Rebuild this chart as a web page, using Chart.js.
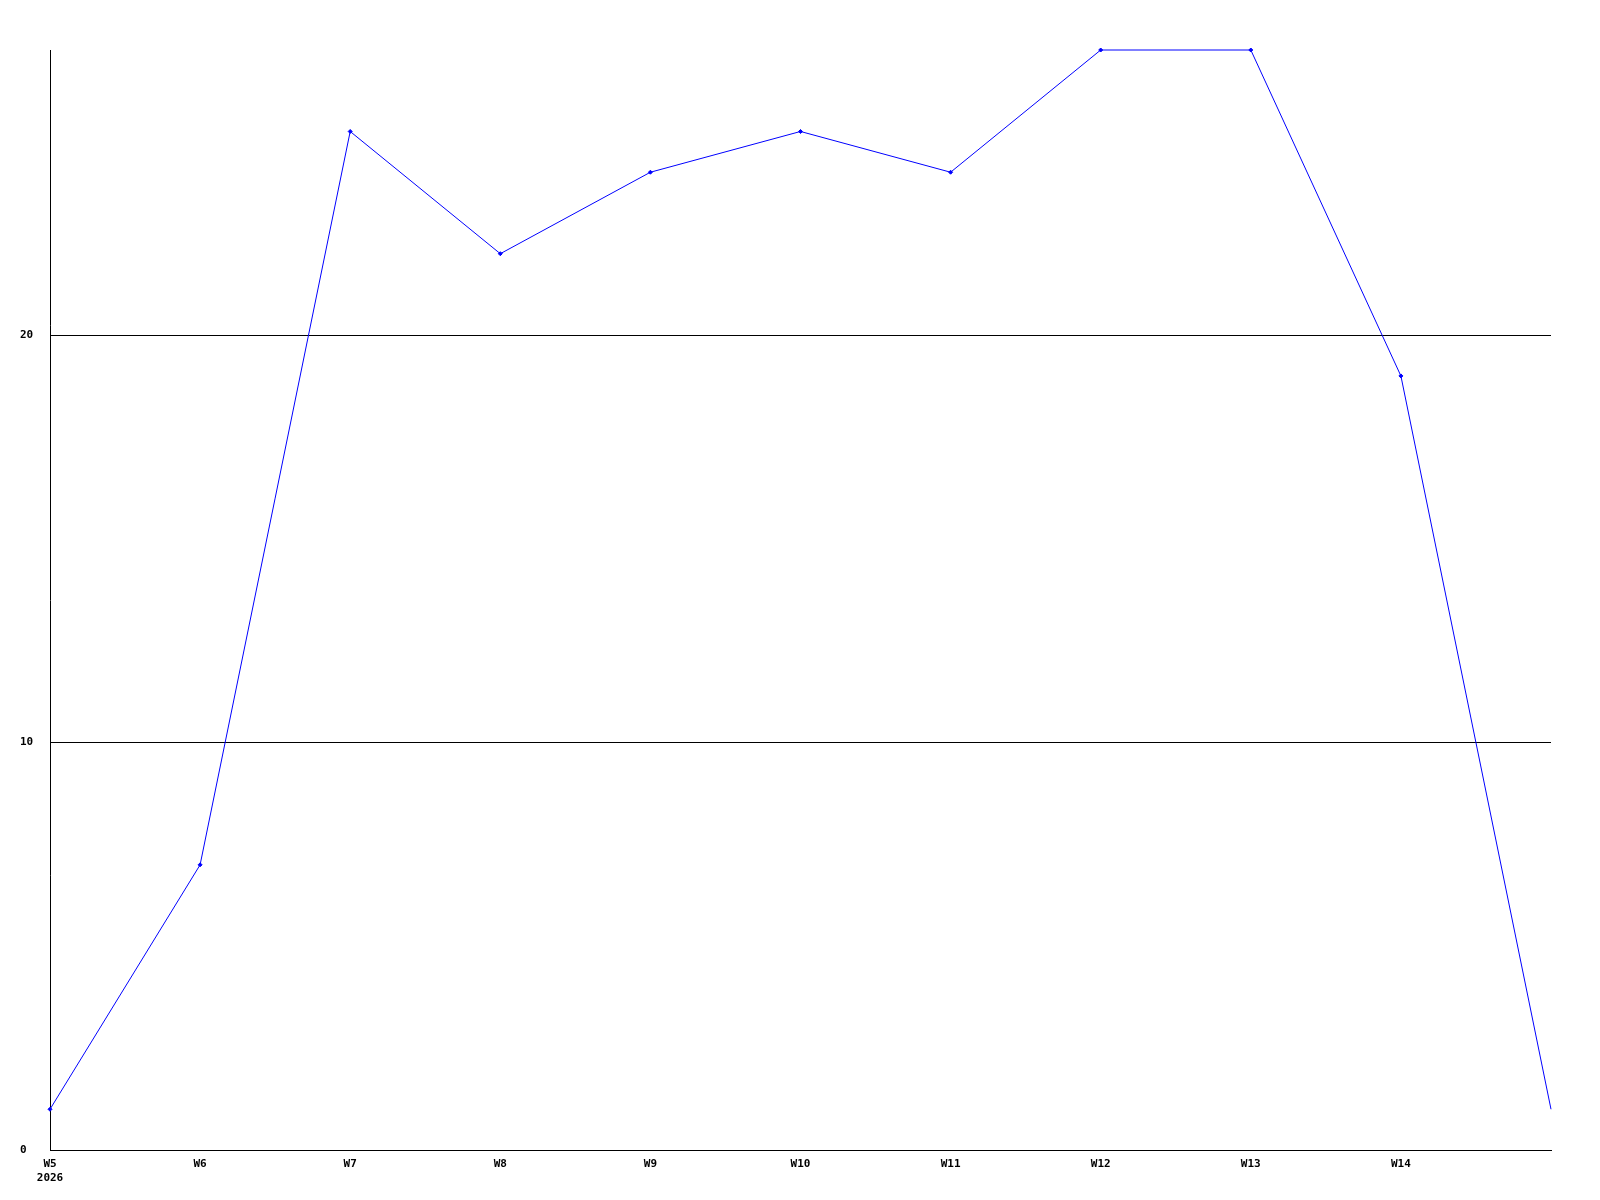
<!DOCTYPE html>
<html>
<head>
<meta charset="utf-8">
<script src="https://cdn.jsdelivr.net/npm/chart.js@4/dist/chart.umd.min.js"></script>
<style>
html,body{margin:0;padding:0;background:#fff;}
#wrap{width:1600px;height:1200px;}
</style>
</head>
<body>
<div id="wrap"><canvas id="c" width="1600" height="1200"></canvas></div>
<script>
const weekLabels = [['W5','2026'],'W6','W7','W8','W9','W10','W11','W12','W13','W14',''];
const values = [1, 7, 25, 22, 24, 25, 24, 27, 27, 19, 1];
const yTickValues = [0, 10, 20];
const yMax = 27;

const font = {family: '"DejaVu Sans Mono", monospace', size: 11, weight: 'bold'};

new Chart(document.getElementById('c'), {
  type: 'line',
  data: {
    labels: weekLabels,
    datasets: [{
      data: values,
      borderColor: '#0000ff',
      backgroundColor: '#0000ff',
      borderWidth: 1,
      pointStyle: 'rectRot',
      pointRadius: values.map((v, i) => i === values.length - 1 ? 0 : 2),
      pointBorderWidth: 1,
      tension: 0,
      fill: false,
      clip: false
    }]
  },
  options: {
    responsive: false,
    animation: false,
    devicePixelRatio: 1,
    layout: {padding: {top: 50, right: 49, left: 20, bottom: 0}},
    plugins: {legend: {display: false}, tooltip: {enabled: false}},
    scales: {
      x: {
        offset: false,
        grid: {display: true, drawOnChartArea: false, drawTicks: false},
        border: {display: true, color: '#000', width: 1},
        ticks: {color: '#000', font: font, padding: 8, maxRotation: 0, autoSkip: false},
        afterFit: s => { s.height = 50; }
      },
      y: {
        min: 0,
        max: yMax,
        afterBuildTicks: s => { s.ticks = yTickValues.map(v => ({value: v})); },
        grid: {color: '#000', lineWidth: 1, drawTicks: false},
        border: {display: true, color: '#000', width: 1},
        ticks: {color: '#000', font: font, padding: 16, crossAlign: 'far'},
        afterFit: s => { s.width = 30; }
      }
    }
  }
});
</script>
</body>
</html>
